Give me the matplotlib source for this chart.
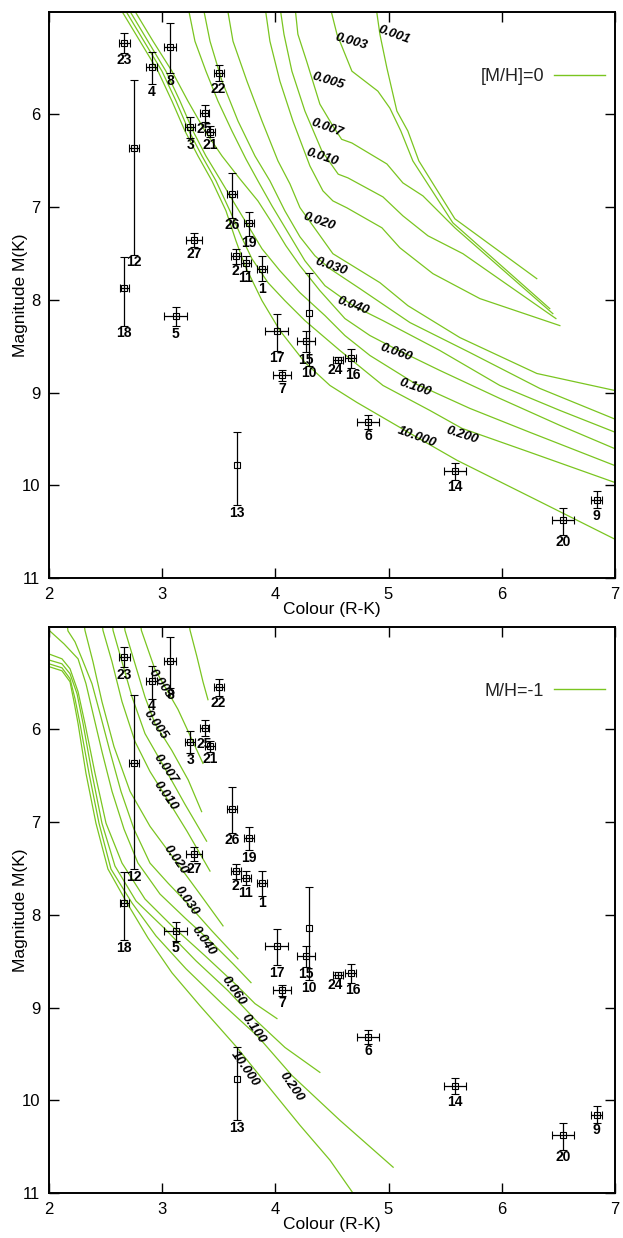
import matplotlib.pyplot as plt
from matplotlib.lines import Line2D

plt.rcParams['font.family'] = ['Liberation Sans', 'DejaVu Sans']

GREEN = '#7ac520'

# Stars: R-K colour, absolute K magnitude and errors
star_id = [1, 2, 3, 4, 5, 6, 7, 8, 9, 10, 11, 12, 13, 14,
           15, 16, 17, 18, 19, 20, 21, 22, 23, 24, 25, 26, 27]
rk = [3.88, 3.65, 3.25, 2.909, 3.121, 4.821, 4.062, 3.07, 6.837, 4.30,
      3.741, 2.75, 3.662, 5.589, 4.27, 4.665, 4.012, 2.667, 3.77, 6.542,
      3.424, 3.50, 2.667, 4.556, 3.377, 3.618, 3.28]
rk_err = [0.045, 0.045, 0.045, 0.047, 0.10, 0.097, 0.078, 0.05, 0.047, 0.0,
          0.045, 0.045, 0.0, 0.099, 0.08, 0.045, 0.099, 0.04, 0.045, 0.10,
          0.045, 0.045, 0.05, 0.045, 0.04, 0.045, 0.07]
mk = [7.663, 7.527, 6.14, 5.49, 8.176, 9.316, 8.814, 5.27, 10.158, 8.144,
      7.606, 6.366, 9.774, 9.843, 8.448, 8.624, 8.338, 7.871, 7.176, 10.376,
      6.187, 5.55, 5.23, 8.645, 5.99, 6.86, 7.35]
mk_err_up = [0.133, 0.075, 0.115, 0.165, 0.097, 0.075, 0.061, 0.258, 0.097, 0.437,
             0.08, 0.735, 0.35, 0.086, 0.111, 0.097, 0.186, 0.33, 0.118, 0.129,
             0.06, 0.086, 0.108, 0.03, 0.09, 0.229, 0.075]
mk_err_dn = [0.136, 0.086, 0.115, 0.186, 0.108, 0.075, 0.061, 0.287, 0.086, 0.563,
             0.08, 1.147, 0.44, 0.093, 0.115, 0.108, 0.208, 0.405, 0.133, 0.158,
             0.06, 0.093, 0.108, 0.035, 0.09, 0.258, 0.075]
# sideways nudge (points) for the two crowded labels
label_shift = {24: -2.0, 16: 2.0}

ages = ['0.001', '0.003', '0.005', '0.007', '0.010', '0.020',
        '0.030', '0.040', '0.060', '0.100', '0.200', '10.000']

# ---- isochrones, [M/H]=0 ----
sol_0001_rk = [4.889, 4.924, 4.986, 5.074, 5.171, 5.268, 5.586, 6.309]
sol_0001_mk = [4.836, 5.137, 5.502, 5.965, 6.18, 6.502, 7.126, 7.771]
sol_0003_rk = [4.483, 4.545, 4.677, 4.906, 5.012, 5.109, 5.215, 5.568, 6.424]
sol_0003_mk = [4.836, 5.137, 5.535, 5.75, 5.933, 6.18, 6.502, 7.169, 8.094]
sol_0005_rk = [4.174, 4.200, 4.277, 4.394, 4.509, 4.586, 4.677, 4.986, 5.127, 5.304, 5.586, 6.451]
sol_0005_mk = [4.836, 5.137, 5.427, 5.890, 6.126, 6.269, 6.309, 6.535, 6.739, 6.879, 7.223, 8.148]
sol_0007_rk = [4.041, 4.077, 4.147, 4.262, 4.412, 4.556, 4.642, 4.951, 5.127, 5.348, 5.657, 6.478]
sol_0007_mk = [4.836, 5.137, 5.535, 5.965, 6.395, 6.645, 6.685, 6.89, 7.094, 7.309, 7.502, 8.201]
sol_0010_rk = [3.909, 3.953, 4.041, 4.156, 4.306, 4.421, 4.509, 4.633, 4.942, 5.100, 5.392, 5.807, 6.513]
sol_0010_mk = [4.836, 5.212, 5.642, 6.072, 6.556, 6.825, 6.933, 7.008, 7.223, 7.438, 7.717, 7.986, 8.277]
sol_0020_rk = [3.574, 3.627, 3.750, 3.883, 4.024, 4.130, 4.218, 4.509, 4.924, 5.171, 5.630, 6.310, 7.05]
sol_0020_mk = [4.836, 5.212, 5.642, 6.072, 6.502, 6.750, 7.005, 7.502, 7.814, 8.062, 8.406, 8.793, 8.99]
sol_0030_rk = [3.362, 3.424, 3.530, 3.671, 3.821, 3.953, 4.085, 4.218, 4.350, 4.483, 4.748, 5.189, 5.718, 6.336, 7.05]
sol_0030_mk = [4.836, 5.212, 5.642, 6.072, 6.449, 6.717, 7.040, 7.320, 7.524, 7.664, 7.879, 8.244, 8.567, 8.954, 9.31]
sol_0040_rk = [3.229, 3.291, 3.388, 3.494, 3.618, 3.741, 3.847, 3.971, 4.130, 4.262, 4.439, 4.686, 4.951, 5.453, 5.983, 6.513, 7.05]
sol_0040_mk = [4.836, 5.212, 5.535, 5.857, 6.180, 6.481, 6.717, 6.986, 7.309, 7.578, 7.847, 8.062, 8.223, 8.545, 8.922, 9.191, 9.45]
sol_0060_rk = [2.735, 2.921, 3.088, 3.229, 3.380, 3.530, 3.688, 3.847, 3.971, 4.094, 4.218, 4.394, 4.615, 4.836, 5.074, 5.453, 5.983, 6.513, 7.05]
sol_0060_mk = [4.836, 5.212, 5.535, 5.857, 6.180, 6.449, 6.696, 6.933, 7.169, 7.416, 7.631, 7.900, 8.201, 8.384, 8.535, 8.760, 9.062, 9.352, 9.63]
sol_0100_rk = [2.691, 2.876, 3.035, 3.159, 3.274, 3.388, 3.521, 3.653, 3.777, 3.883, 4.041, 4.218, 4.439, 4.615, 4.836, 5.233, 5.718, 6.248, 7.05]
sol_0100_mk = [4.836, 5.212, 5.535, 5.857, 6.180, 6.449, 6.717, 6.986, 7.234, 7.449, 7.685, 7.922, 8.169, 8.384, 8.599, 8.900, 9.169, 9.427, 9.81]
sol_0200_rk = [2.656, 2.841, 3.000, 3.124, 3.238, 3.353, 3.477, 3.600, 3.697, 3.794, 3.936, 4.085, 4.262, 4.571, 4.951, 5.365, 5.648, 6.248, 7.05]
sol_0200_mk = [4.836, 5.212, 5.535, 5.857, 6.180, 6.449, 6.717, 7.040, 7.309, 7.556, 7.814, 8.008, 8.223, 8.545, 8.922, 9.191, 9.384, 9.642, 9.99]
sol_10000_rk = [2.620, 2.806, 2.965, 3.088, 3.203, 3.318, 3.441, 3.565, 3.653, 3.733, 3.883, 4.041, 4.262, 4.483, 4.721, 5.251, 5.604, 6.310, 7.05]
sol_10000_mk = [4.836, 5.212, 5.535, 5.857, 6.180, 6.449, 6.717, 7.040, 7.363, 7.631, 8.008, 8.330, 8.674, 8.922, 9.105, 9.481, 9.728, 10.158, 10.61]

sol_lab_rk = [5.050, 4.674, 4.468, 4.454, 4.410, 4.388, 4.489, 4.688, 5.071, 5.233, 5.650, 5.253]
sol_lab_mk = [5.140, 5.212, 5.642, 6.151, 6.467, 7.158, 7.642, 8.062, 8.564, 8.940, 9.459, 9.481]
sol_lab_rot = [-20, -16, -17, -20, -18, -19, -19, -20, -19, -19, -18, -20]

# ---- isochrones, [M/H]=-1 ----
low_0001_rk = [3.24, 3.247, 3.309, 3.362, 3.406]
low_0001_mk = [4.85, 4.935, 5.225, 5.493, 5.686]
low_0003_rk = [2.81, 2.818, 2.938, 3.141, 3.362]
low_0003_mk = [4.85, 4.94, 5.36, 5.79, 6.372]
low_0005_rk = [2.665, 2.673, 2.762, 2.850, 2.938, 3.086, 3.232, 3.350]
low_0005_mk = [4.85, 4.94, 5.30, 5.657, 5.943, 6.23, 6.551, 6.891]
low_0007_rk = [2.56, 2.568, 2.647, 2.735, 2.850, 3.026, 3.203, 3.394]
low_0007_mk = [4.85, 4.94, 5.279, 5.654, 6.051, 6.426, 6.812, 7.209]
low_0010_rk = [2.47, 2.479, 2.559, 2.647, 2.762, 2.894, 3.026, 3.221, 3.424]
low_0010_mk = [4.85, 4.94, 5.279, 5.707, 6.137, 6.459, 6.716, 7.102, 7.531]
low_0020_rk = [2.31, 2.320, 2.391, 2.470, 2.576, 2.718, 2.894, 3.115, 3.335, 3.539]
low_0020_mk = [4.85, 4.94, 5.279, 5.707, 6.19, 6.673, 7.049, 7.413, 7.778, 8.121]
low_0030_rk = [2.16, 2.170, 2.232, 2.294, 2.382, 2.453, 2.541, 2.638, 2.753, 2.894, 3.053, 3.221, 3.441, 3.671]
low_0030_mk = [4.85, 4.946, 5.063, 5.246, 5.514, 5.836, 6.244, 6.673, 7.080, 7.445, 7.660, 7.874, 8.175, 8.475]
low_0040_rk = [1.95, 2.135, 2.259, 2.329, 2.391, 2.470, 2.559, 2.665, 2.788, 2.982, 3.212, 3.424, 3.627, 3.786]
low_0040_mk = [4.88, 5.085, 5.246, 5.514, 5.836, 6.244, 6.673, 7.080, 7.445, 7.778, 8.046, 8.282, 8.529, 8.732]
low_0060_rk = [1.95, 2.117, 2.188, 2.259, 2.320, 2.409, 2.506, 2.647, 2.850, 3.088, 3.380, 3.645, 3.821, 4.015]
low_0060_mk = [5.17, 5.246, 5.353, 5.600, 5.943, 6.480, 7.016, 7.445, 7.832, 8.121, 8.443, 8.744, 8.958, 9.119]
low_0100_rk = [1.95, 2.117, 2.188, 2.250, 2.303, 2.382, 2.470, 2.585, 2.771, 3.026, 3.300, 3.582, 3.832, 4.086, 4.394]
low_0100_mk = [5.24, 5.300, 5.407, 5.622, 5.943, 6.480, 7.016, 7.477, 7.853, 8.153, 8.497, 8.818, 9.141, 9.430, 9.698]
low_0200_rk = [1.95, 2.117, 2.188, 2.232, 2.276, 2.356, 2.444, 2.550, 2.735, 2.947, 3.212, 3.530, 3.847, 4.147, 4.571, 5.041]
low_0200_mk = [5.28, 5.343, 5.460, 5.675, 5.943, 6.480, 7.016, 7.510, 7.874, 8.229, 8.583, 8.958, 9.312, 9.731, 10.214, 10.719]
low_10000_rk = [1.95, 2.117, 2.188, 2.223, 2.259, 2.329, 2.417, 2.523, 2.691, 2.876, 3.088, 3.335, 3.662, 3.953, 4.218, 4.483, 4.686, 4.818]
low_10000_mk = [5.31, 5.375, 5.493, 5.707, 5.943, 6.480, 7.016, 7.509, 7.874, 8.250, 8.626, 8.980, 9.430, 9.870, 10.267, 10.643, 10.997, 11.233]

low_lab_rk = [2.982, 2.938, 3.026, 3.026, 3.115, 3.218, 3.365, 3.629, 3.806, 4.145, 3.733]
low_lab_mk = [5.514, 5.961, 6.426, 6.719, 7.41, 7.856, 8.282, 8.819, 9.23, 9.849, 9.659]
low_lab_txt = ['0.003', '0.005', '0.007', '0.010', '0.020', '0.030',
               '0.040', '0.060', '0.100', '0.200', '10.000']

sol_curves = [(sol_0001_rk, sol_0001_mk), (sol_0003_rk, sol_0003_mk),
              (sol_0005_rk, sol_0005_mk), (sol_0007_rk, sol_0007_mk),
              (sol_0010_rk, sol_0010_mk), (sol_0020_rk, sol_0020_mk),
              (sol_0030_rk, sol_0030_mk), (sol_0040_rk, sol_0040_mk),
              (sol_0060_rk, sol_0060_mk), (sol_0100_rk, sol_0100_mk),
              (sol_0200_rk, sol_0200_mk), (sol_10000_rk, sol_10000_mk)]
low_curves = [(low_0001_rk, low_0001_mk), (low_0003_rk, low_0003_mk),
              (low_0005_rk, low_0005_mk), (low_0007_rk, low_0007_mk),
              (low_0010_rk, low_0010_mk), (low_0020_rk, low_0020_mk),
              (low_0030_rk, low_0030_mk), (low_0040_rk, low_0040_mk),
              (low_0060_rk, low_0060_mk), (low_0100_rk, low_0100_mk),
              (low_0200_rk, low_0200_mk), (low_10000_rk, low_10000_mk)]


def draw_stars(ax):
    ebar = dict(fmt='s', ms=4.4, mfc='none', mec='black', mew=0.8,
                ecolor='black', elinewidth=0.9, capsize=2.6, capthick=0.9,
                zorder=3)
    with_x = [i for i in range(len(rk)) if rk_err[i] > 0]
    no_x = [i for i in range(len(rk)) if rk_err[i] == 0]
    ax.errorbar([rk[i] for i in with_x], [mk[i] for i in with_x],
                xerr=[rk_err[i] for i in with_x],
                yerr=[[mk_err_up[i] for i in with_x],
                      [mk_err_dn[i] for i in with_x]], **ebar)
    ax.errorbar([rk[i] for i in no_x], [mk[i] for i in no_x],
                yerr=[[mk_err_up[i] for i in no_x],
                      [mk_err_dn[i] for i in no_x]], **ebar)
    for i, sid in enumerate(star_id):
        ax.annotate(str(sid), (rk[i], mk[i] + mk_err_dn[i]),
                    xytext=(label_shift.get(sid, 0), -0.3),
                    textcoords='offset points',
                    ha='center', va='top', fontsize=10, fontweight='bold',
                    zorder=4)


def setup_axes(ax, key_label):
    ax.set_xlim(2, 7)
    ax.set_ylim(11, 4.9)
    ax.set_yticks([6, 7, 8, 9, 10, 11])
    ax.set_xticks([2, 3, 4, 5, 6, 7])
    ax.tick_params(direction='in', top=True, right=True, length=7,
                   width=1.0, labelsize=12, pad=6)
    for sp in ax.spines.values():
        sp.set_linewidth(1.4)
    ax.set_xlabel('Colour (R-K)', fontsize=12.5, labelpad=0)
    ax.set_ylabel('Magnitude M(K)', fontsize=12.5)
    ax.yaxis.set_label_coords(-0.036, 0.5)
    handle = Line2D([], [], color=GREEN, lw=1.0)
    ax.legend([handle], [key_label], loc='center right',
              bbox_to_anchor=(0.982, 0.886), frameon=False,
              markerfirst=False, handlelength=2.8, handletextpad=0.55,
              borderpad=0, borderaxespad=0, fontsize=13, labelcolor='#222222')


fig = plt.figure(figsize=(6.23, 12.38), dpi=100)
ax_top = fig.add_axes([0.0782, 0.5329, 0.9090, 0.4572])
ax_bot = fig.add_axes([0.0782, 0.0361, 0.9090, 0.4577])

# top: solar metallicity
for cx, cy in sol_curves:
    ax_top.plot(cx, cy, color=GREEN, lw=0.9, zorder=1)
for x, y, r, t in zip(sol_lab_rk, sol_lab_mk, sol_lab_rot, ages):
    ax_top.text(x, y, t, rotation=r, ha='center', va='center', fontsize=9.5,
                fontweight='bold', fontstyle='italic', zorder=2,
                rotation_mode='anchor')
draw_stars(ax_top)
setup_axes(ax_top, '[M/H]=0')

# bottom: [M/H] = -1
for cx, cy in low_curves:
    ax_bot.plot(cx, cy, color=GREEN, lw=0.9, zorder=1)
for x, y, t in zip(low_lab_rk, low_lab_mk, low_lab_txt):
    ax_bot.text(x, y, t, rotation=-55, ha='center', va='center', fontsize=9.5,
                fontweight='bold', fontstyle='italic', zorder=2,
                rotation_mode='anchor')
draw_stars(ax_bot)
setup_axes(ax_bot, 'M/H=-1')

fig.savefig('out.png', dpi=100)
